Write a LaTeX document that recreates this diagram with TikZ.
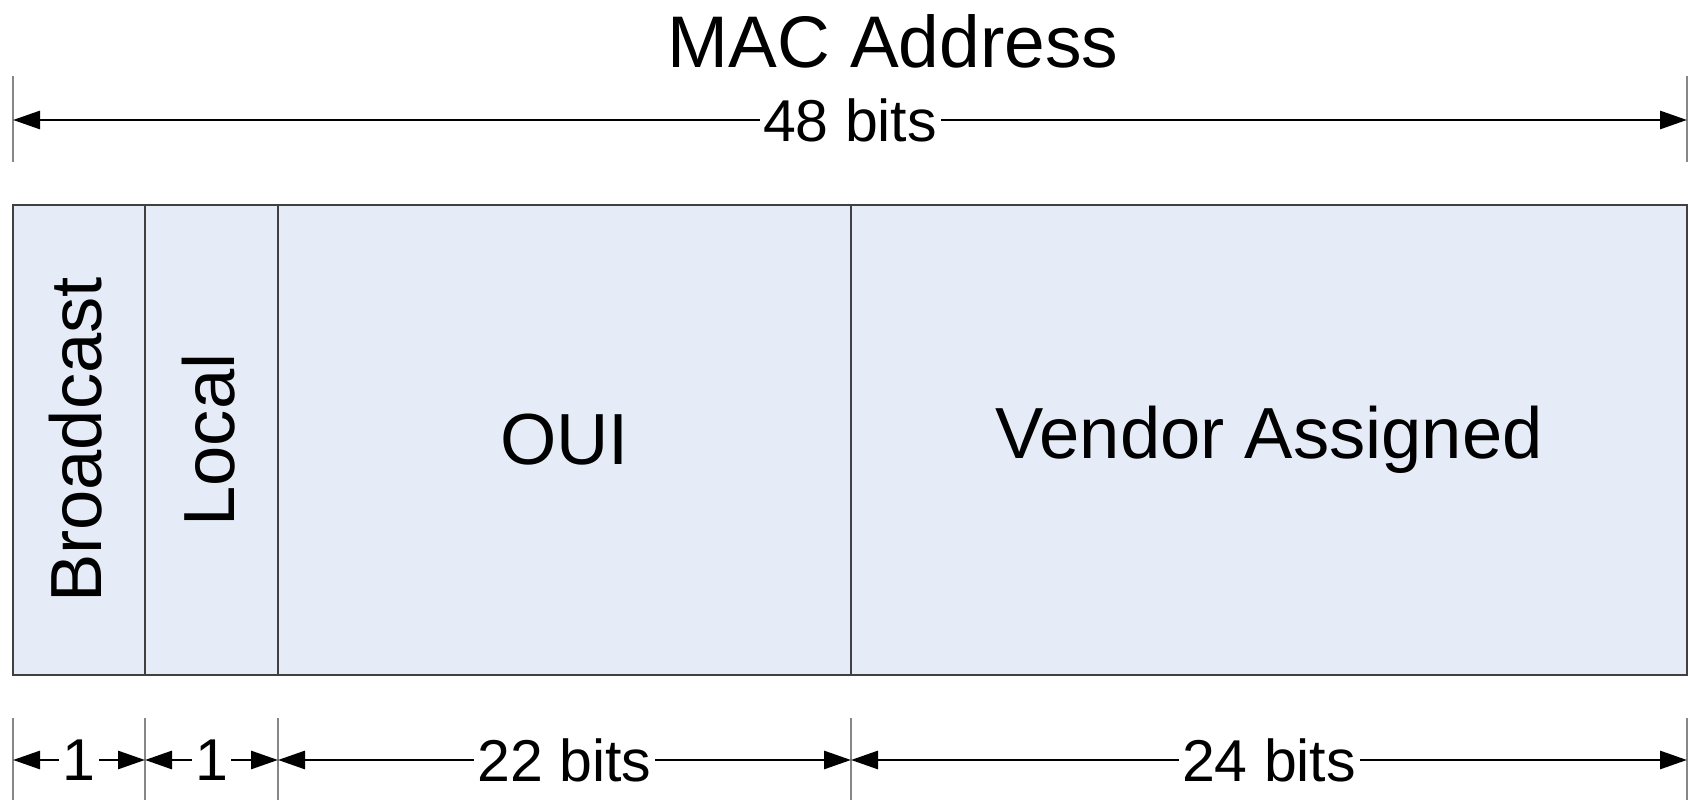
\documentclass[tikz,border=0pt]{standalone}
\usepackage{fontspec}
\setmainfont{Liberation Sans}
\usetikzlibrary{arrows.meta}

\definecolor{fieldblue}{RGB}{230,236,247}
\definecolor{edgegray}{RGB}{64,64,64}
\definecolor{tickgray}{RGB}{135,135,135}

\tikzset{
  field/.style={draw=edgegray, line width=0.6pt, fill=fieldblue, minimum height=4.7cm,
    inner sep=0pt, font=\fontsize{20.6}{24}\selectfont},
  dim/.style={line width=0.8pt, {Triangle[length=0.27cm,width=0.18cm]}-{Triangle[length=0.27cm,width=0.18cm]}},
  dimlabel/.style={fill=white, inner sep=1pt, font=\fontsize{16.8}{20}\selectfont},
  tick/.style={draw=tickgray, line width=0.6pt}
}
\newcommand{\uplabel}[1]{\rotatebox{90}{\rule[-2pt]{0pt}{2pt}#1}}

\begin{document}
\begin{tikzpicture}
    \useasboundingbox (0,0) rectangle (16.88,8.00);

    % fields
    \node[field, minimum width=1.32cm] (bcast) at (0.79,3.60) {\uplabel{Broadcast}};
    \node[field, minimum width=1.33cm] (local) at (2.115,3.60) {\uplabel{Local}};
    \node[field, minimum width=5.73cm] (oui) at (5.645,3.60) {OUI};
    \node[field, minimum width=8.36cm] (vendor) at (12.69,3.60) {Vendor Assigned};

    % total width
    \node[font=\fontsize{20.8}{24}\selectfont] (title) at (8.93,7.59) {MAC Address};
    \coordinate (t0) at (0.13,6.80);
    \coordinate (t1) at (16.87,6.80);
    \draw[tick] (0.13,6.38) -- (0.13,7.24);
    \draw[tick] (16.87,6.38) -- (16.87,7.24);
    \draw[dim] (t0) -- node[dimlabel] (total) {48 bits} (t1);

    % field widths
    \foreach \x/\name in {0.13/b0, 1.45/b1, 2.78/b2, 8.51/b3, 16.87/b4} {
      \draw[tick] (\x,0) -- (\x,0.82);
      \coordinate (\name) at (\x,0.40);
    }
    \draw[dim] (b0) -- node[dimlabel] (w1) {1} (b1);
    \draw[dim] (b1) -- node[dimlabel] (w2) {1} (b2);
    \draw[dim] (b2) -- node[dimlabel] (w3) {22 bits} (b3);
    \draw[dim] (b3) -- node[dimlabel] (w4) {24 bits} (b4);
\end{tikzpicture}
\end{document}
